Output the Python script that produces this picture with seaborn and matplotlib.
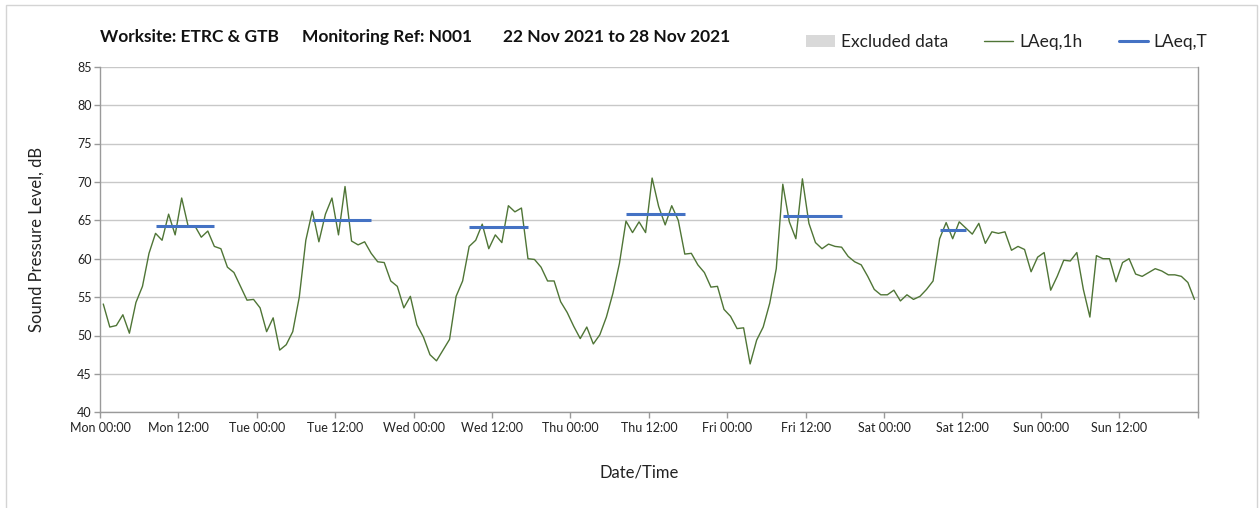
import numpy as np
import pandas as pd
import matplotlib
matplotlib.use("Agg")
import matplotlib.pyplot as plt
import seaborn as sns
from matplotlib.patches import Patch, Rectangle
from matplotlib.lines import Line2D
from matplotlib.ticker import MultipleLocator

# ---------------- data ----------------
days = ["Mon", "Tue", "Wed", "Thu", "Fri", "Sat", "Sun"]

# hourly LAeq,1h values, Mon 00:00 .. Sun 23:00
laeq_1h = [
    54.1, 51.1, 51.3, 52.7, 50.3, 54.3, 56.4, 60.7, 63.3, 62.4, 65.8, 63.1,
    67.9, 64.2, 64.3, 62.8, 63.6, 61.6, 61.3, 58.9, 58.2, 56.4, 54.6, 54.7,
    53.6, 50.5, 52.3, 48.1, 48.8, 50.5, 55.0, 62.4, 66.2, 62.2, 65.8, 67.9,
    63.1, 69.4, 62.3, 61.8, 62.2, 60.7, 59.6, 59.5, 57.1, 56.4, 53.6, 55.1,
    51.4, 49.8, 47.5, 46.7, 48.1, 49.5, 55.1, 57.1, 61.6, 62.4, 64.5, 61.3,
    63.1, 62.1, 66.9, 66.1, 66.6, 60.0, 59.9, 58.9, 57.1, 57.1, 54.4, 53.0,
    51.2, 49.6, 51.1, 48.9, 50.1, 52.4, 55.5, 59.4, 64.9, 63.4, 64.8, 63.4,
    70.5, 66.8, 64.4, 66.9, 65.0, 60.6, 60.7, 59.2, 58.2, 56.3, 56.4, 53.4,
    52.5, 50.9, 51.0, 46.3, 49.4, 51.1, 54.2, 58.7, 69.7, 64.8, 62.6, 70.4,
    64.6, 62.1, 61.3, 61.9, 61.6, 61.5, 60.3, 59.6, 59.2, 57.7, 56.0, 55.3,
    55.3, 55.9, 54.5, 55.3, 54.7, 55.1, 56.0, 57.1, 62.6, 64.7, 62.6, 64.8,
    64.0, 63.2, 64.6, 62.0, 63.5, 63.3, 63.5, 61.1, 61.6, 61.2, 58.3, 60.2,
    60.8, 55.9, 57.7, 59.8, 59.7, 60.8, 56.0, 52.4, 60.4, 60.0, 60.0, 57.0,
    59.5, 60.0, 58.0, 57.7, 58.2, 58.7, 58.4, 57.9, 57.9, 57.7, 56.9, 54.7,
]

# LAeq,T periods (day index, first hour, last hour, level)
period_day = [0, 1, 2, 3, 4, 5]
period_first_hour = [8, 8, 8, 8, 8, 8]
period_last_hour = [17, 17, 17, 17, 17, 12]
laeq_T = [64.3, 65.1, 64.1, 65.8, 65.6, 63.8]

title_parts = ["Worksite: ETRC & GTB", "Monitoring Ref: N001", "22 Nov 2021 to 28 Nov 2021"]

# ---------------- tables ----------------
n = len(laeq_1h)
# Excel category axis: each hourly point sits mid-way between tick marks
df = pd.DataFrame({"hour": np.arange(n) + 0.5, "level": laeq_1h})

rows = []
for k, (d, h0, h1, v) in enumerate(zip(period_day, period_first_hour, period_last_hour, laeq_T)):
    for h in range(h0, h1 + 1):
        rows.append({"period": k, "hour": d * 24 + h + 0.5, "level": v})
dfT = pd.DataFrame(rows)

# ---------------- style ----------------
sns.set_style("white")
plt.rcParams["font.family"] = ["Lato", "DejaVu Sans"]

W, H = 1259, 508
fig = plt.figure(figsize=(W / 100, H / 100), dpi=100)
ax = fig.add_axes([100 / W, 1 - 412.3 / H, (1197.7 - 100) / W, (412.3 - 66.7) / H])

green = "#4f7536"
blue = "#4472C4"
axis_grey = "#9a9a9a"

sns.lineplot(data=df, x="hour", y="level", ax=ax, color=green, linewidth=1.0,
             estimator=None, legend=False)
sns.lineplot(data=dfT, x="hour", y="level", units="period", ax=ax, color=blue,
             linewidth=2.2, estimator=None, legend=False, solid_capstyle="butt")

ax.set_xlim(0, 168)
ax.set_ylim(40, 85)
ax.set_yticks(np.arange(40, 86, 5))
xt = np.arange(0, 169, 12)
ax.set_xticks(xt)
ax.set_xticklabels([f"{days[t // 24]} {t % 24:02d}:00" if t < 168 else "" for t in xt])
ax.xaxis.set_minor_locator(MultipleLocator(24))

ax.set_axisbelow(True)
ax.grid(axis="y", which="major", color="#c8c8c8", linewidth=1.0)
ax.grid(axis="x", which="minor", color="#dedede", linewidth=1.0)
ax.grid(axis="x", which="major", visible=False)

for s in ["left", "bottom", "right"]:
    ax.spines[s].set_color(axis_grey)
    ax.spines[s].set_linewidth(1.0)
ax.spines["top"].set_visible(False)

ax.tick_params(axis="both", which="major", direction="out", length=4, width=1.0,
               color=axis_grey, labelsize=9, labelcolor="#222222", pad=2)
ax.tick_params(axis="x", which="major", pad=3)
ax.tick_params(axis="x", which="minor", length=0)
ax.tick_params(left=True, bottom=True)

ax.set_xlabel("Date/Time", fontsize=12, color="#222222")
ax.set_ylabel("Sound Pressure Level, dB", fontsize=12, color="#222222")
ax.xaxis.set_label_coords((639 - 100) / 1097.7, (412.3 - 473) / 345.6)
ax.xaxis.label.set_va("center")
ax.yaxis.set_label_coords((37 - 100) / 1097.7, 0.5)
ax.yaxis.label.set_va("center")

for part, xpx in zip(title_parts, [100, 302, 503]):
    fig.text(xpx / W, 1 - 37 / H, part, ha="left", va="center",
             fontsize=12.5, fontweight="bold", color="#111111")

handles = [
    Patch(facecolor="#d9d9d9", edgecolor="none", label="Excluded data"),
    Line2D([], [], color=green, linewidth=1.0, label="LAeq,1h"),
    Line2D([], [], color=blue, linewidth=2.2, label="LAeq,T"),
]
fig.legend(handles=handles, loc="center left", bbox_to_anchor=(806 / W, 1 - 42 / H),
           ncol=3, frameon=False, fontsize=12.5, handlelength=1.65, handletextpad=0.35,
           columnspacing=2.1, borderpad=0, borderaxespad=0, labelcolor="#222222")

fig.patches.append(Rectangle((5.5 / W, -0.05), (1257 - 5.5) / W, 1.05 - 5 / H,
                             transform=fig.transFigure, fill=False,
                             edgecolor="#d4d4d4", linewidth=1.0))

fig.savefig("out.png", dpi=100)
